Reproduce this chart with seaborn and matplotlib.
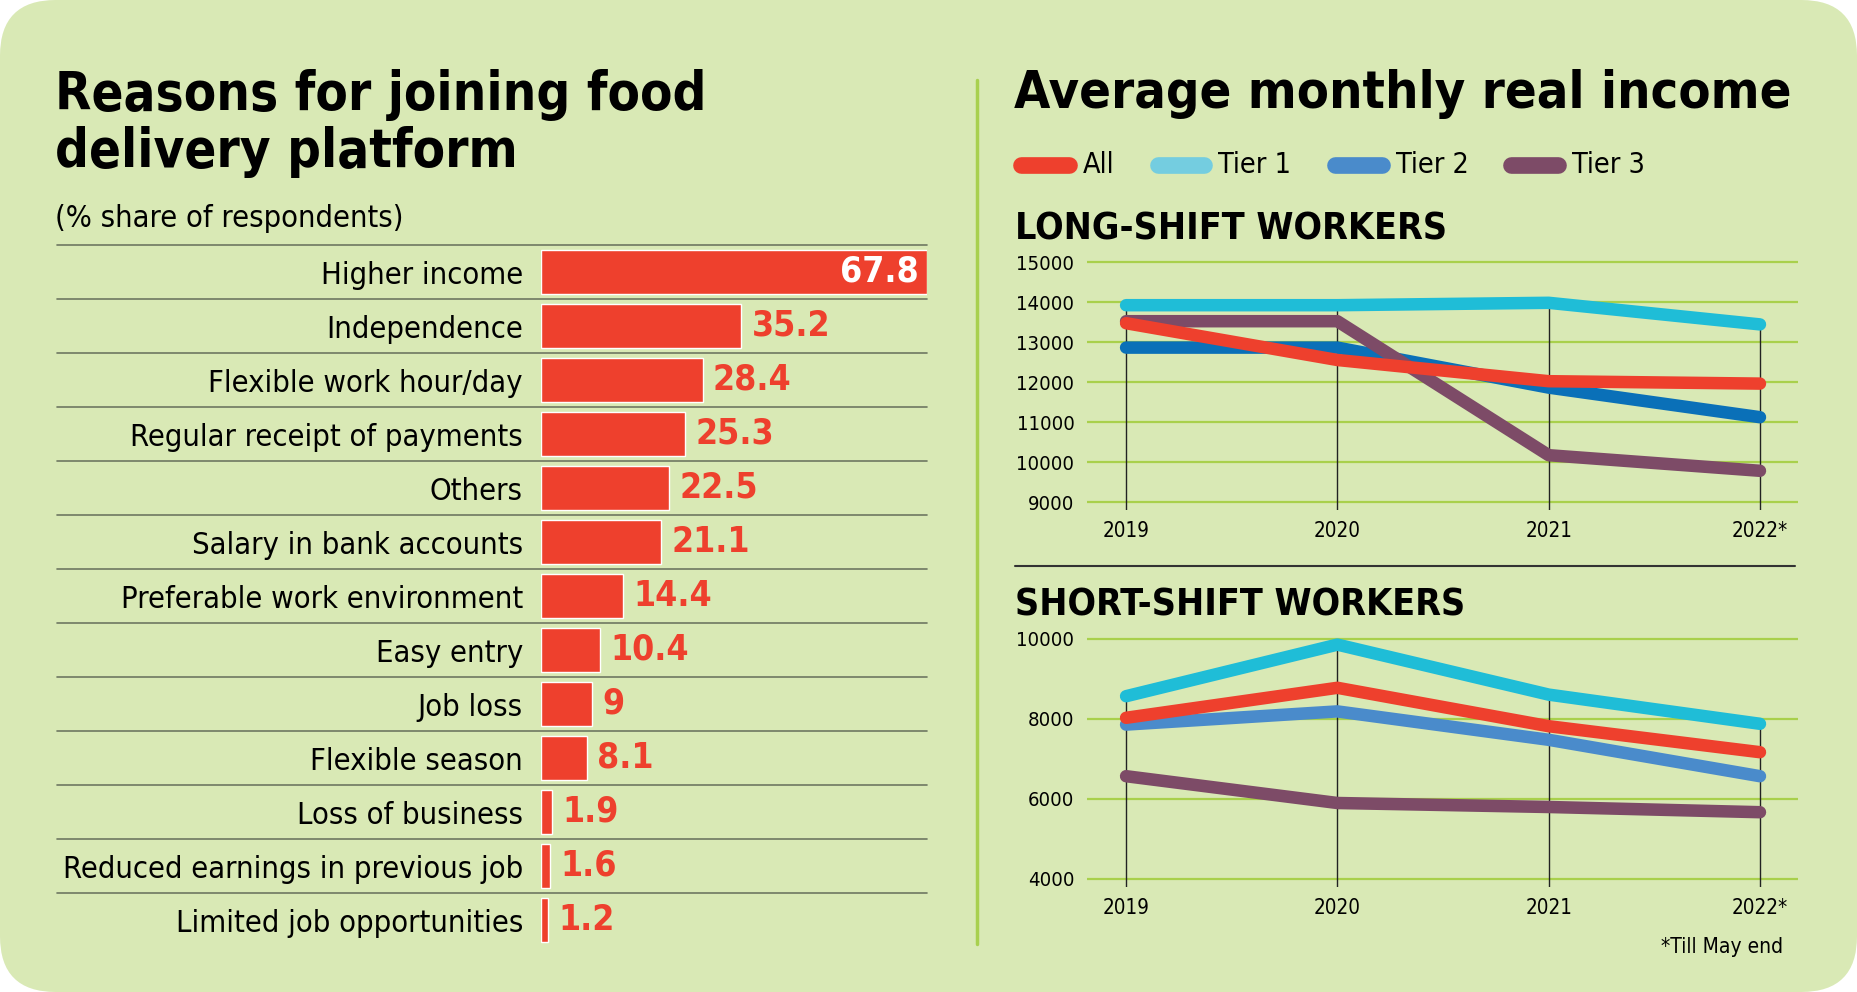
import matplotlib
matplotlib.use("Agg")
import matplotlib.pyplot as plt
import seaborn as sns
import pandas as pd
import numpy as np
from matplotlib.patches import FancyBboxPatch
from matplotlib.lines import Line2D

# ---------------- data ----------------
reasons = ["Higher income", "Independence", "Flexible work hour/day",
           "Regular receipt of payments", "Others", "Salary in bank accounts",
           "Preferable work environment", "Easy entry", "Job loss",
           "Flexible season", "Loss of business",
           "Reduced earnings in previous job", "Limited job opportunities"]
shares = [67.8, 35.2, 28.4, 25.3, 22.5, 21.1, 14.4, 10.4, 9, 8.1, 1.9, 1.6, 1.2]
share_labels = ["67.8", "35.2", "28.4", "25.3", "22.5", "21.1", "14.4",
                "10.4", "9", "8.1", "1.9", "1.6", "1.2"]

years = ["2019", "2020", "2021", "2022*"]
series_names = ["Tier 1", "Tier 2", "Tier 3", "All"]

long_all = [13470, 12550, 12020, 11960]
long_t1 = [13920, 13920, 13980, 13440]
long_t2 = [12860, 12860, 11860, 11120]
long_t3 = [13520, 13520, 10170, 9780]

short_all = [8030, 8780, 7820, 7170]
short_t1 = [8570, 9860, 8610, 7880]
short_t2 = [7860, 8190, 7480, 6570]
short_t3 = [6570, 5900, 5800, 5670]

long_ticks = [9000, 10000, 11000, 12000, 13000, 14000, 15000]
short_ticks = [4000, 6000, 8000, 10000]

# ---------------- style ----------------
BG = "#d9e9b5"
RED = "#ee402d"
GRID = "#a9d04c"
SEP = "#6f7862"
pal_long = {"All": RED, "Tier 1": "#1fbdd7", "Tier 2": "#0a70b8", "Tier 3": "#7d4b67"}
pal_short = {"All": RED, "Tier 1": "#1fbdd7", "Tier 2": "#4a8bcb", "Tier 3": "#7d4b67"}
pal_legend = {"All": RED, "Tier 1": "#74cde0", "Tier 2": "#4a8bcb", "Tier 3": "#7d4b67"}

sns.set_theme(style="white")
FAM = ["DejaVu Sans"]
plt.rcParams["font.family"] = FAM
plt.rcParams["font.stretch"] = "condensed"
plt.rcParams["axes.facecolor"] = "none"
plt.rcParams["text.color"] = "black"
plt.rcParams["xtick.color"] = "black"
plt.rcParams["ytick.color"] = "black"

W, H = 1857, 992
fig = plt.figure(figsize=(W / 100, H / 100), dpi=100)
fig.patch.set_facecolor("white")
renderer = fig.canvas.get_renderer()

bg = FancyBboxPatch((0, 0), 1, 1, boxstyle="round,pad=0,rounding_size=0.03",
                    transform=fig.transFigure, facecolor=BG, edgecolor="none",
                    mutation_aspect=W / H, zorder=-10)
fig.patches.append(bg)


def fx(px):
    return px / W


def fy(py):
    return 1 - py / H


def add_ax(x0, y0, x1, y1):
    return fig.add_axes([fx(x0), fy(y1), fx(x1) - fx(x0), (y1 - y0) / H])


def fit_size(s, target_px, weight="normal", base=30, maxsize=None):
    t = fig.text(0, 0, s, fontsize=base, fontweight=weight)
    w = t.get_window_extent(renderer=renderer).width
    t.remove()
    size = base * target_px / w
    if maxsize is not None:
        size = min(size, maxsize)
    return size


def ftext(x, y, s, target_px, weight="normal", maxsize=None, **kw):
    size = fit_size(s, target_px, weight, maxsize=maxsize)
    return fig.text(fx(x), fy(y), s, fontsize=size, fontweight=weight, **kw)


# ---------------- left: bar chart ----------------
t_size = fit_size("Reasons for joining food", 650, "bold")
fig.text(fx(55), fy(110), "Reasons for joining food", fontsize=t_size, fontweight="bold",
         ha="left", va="baseline")
fig.text(fx(55), fy(167), "delivery platform", fontsize=t_size, fontweight="bold",
         ha="left", va="baseline")
ftext(55, 227, "(% share of respondents)", 348, ha="left", va="baseline")

axb = add_ax(541, 245, 927, 947)
df_bar = pd.DataFrame({"reason": reasons, "share": shares})
sns.barplot(data=df_bar, x="share", y="reason", color=RED, saturation=1,
            width=0.82, ax=axb, orient="h")
axb.set_xlim(0, 67.8)
axb.set_ylim(12.5, -0.5)
axb.set_xlabel("")
axb.set_ylabel("")
axb.set_xticks([])
lab_size = fit_size("Reduced earnings in previous job", 460)
axb.tick_params(axis="y", length=0, pad=13, labelsize=lab_size)
for s in axb.spines.values():
    s.set_visible(False)
for i in range(13):
    axb.axhline(i - 0.5, xmin=-1.254, xmax=1.0, color=SEP, lw=1.2,
                clip_on=False, zorder=0)
val_size = fit_size("35.2", 79, "bold")
for i, (v, lab) in enumerate(zip(shares, share_labels)):
    if i == 0:
        axb.text(v - 1.5, i, lab, color="white", fontsize=val_size, fontweight="bold",
                 ha="right", va="center")
    else:
        axb.text(v + 1.8, i, lab, color=RED, fontsize=val_size, fontweight="bold",
                 ha="left", va="center")

fig.add_artist(Line2D([fx(977), fx(977)], [fy(80), fy(944)], color="#a8d04e", lw=2.5))

# ---------------- right: line charts ----------------
ftext(1014, 108, "Average monthly real income", 777, "bold", ha="left", va="baseline")

leg_size = fit_size("Tier 1", 73)
leg_items = [("All", 1013, 1077), ("Tier 1", 1150, 1212), ("Tier 2", 1327, 1390),
             ("Tier 3", 1503, 1566)]
for name, x0, x1 in leg_items:
    fig.add_artist(Line2D([fx(x0 + 8), fx(x1 - 8)], [fy(165), fy(165)],
                          color=pal_legend[name], lw=12, solid_capstyle="round"))
    fig.text(fx(x1 + 6), fy(165), name, fontsize=leg_size, ha="left", va="center")

sec_size = fit_size("SHORT-SHIFT WORKERS", 448, "bold")
fig.text(fx(1015), fy(240), "LONG-SHIFT WORKERS", fontsize=sec_size, fontweight="bold",
         ha="left", va="baseline")
fig.text(fx(1015), fy(616), "SHORT-SHIFT WORKERS", fontsize=sec_size, fontweight="bold",
         ha="left", va="baseline")
fig.add_artist(Line2D([fx(1015), fx(1795)], [fy(566), fy(566)], color="#333333", lw=1.5))
ftext(1783, 953, "*Till May end", 122, ha="right", va="baseline")

ytick_size = fit_size("15000", 58)
xtick_size = fit_size("2019", 47)


def line_panel(ax, data, pal, ylim, ticks):
    rows = []
    for name, vals in data.items():
        for i, v in enumerate(vals):
            rows.append({"year": i, "value": v, "series": name})
    df = pd.DataFrame(rows)
    ymax = df.groupby("year")["value"].max()
    ax.vlines(ymax.index, ylim[0], ymax.values, color="#222222", lw=1.0, zorder=1)
    for t in ticks:
        ax.axhline(t, color=GRID, lw=1.6, zorder=0)
    sns.lineplot(data=df, x="year", y="value", hue="series", hue_order=series_names,
                 palette=pal, lw=9, ax=ax, legend=False, zorder=3,
                 solid_capstyle="round", solid_joinstyle="round")
    ax.set_xlim(-0.185, 3.18)
    ax.set_ylim(*ylim)
    ax.set_xticks(range(4))
    ax.set_xticklabels(years)
    ax.set_yticks(ticks)
    ax.set_yticklabels([str(t) for t in ticks])
    ax.set_xlabel("")
    ax.set_ylabel("")
    ax.tick_params(axis="y", length=0, pad=9, labelsize=ytick_size)
    ax.tick_params(axis="x", length=0, pad=8, labelsize=xtick_size)
    for s in ax.spines.values():
        s.set_visible(False)


ax1 = add_ax(1087, 260, 1798, 510)
line_panel(ax1, {"Tier 1": long_t1, "Tier 2": long_t2, "Tier 3": long_t3, "All": long_all},
           pal_long, (8800, 15050), long_ticks)

ax2 = add_ax(1087, 637, 1798, 887)
line_panel(ax2, {"Tier 1": short_t1, "Tier 2": short_t2, "Tier 3": short_t3, "All": short_all},
           pal_short, (3800, 10050), short_ticks)

fig.savefig("out.png", dpi=100, facecolor=fig.get_facecolor())
